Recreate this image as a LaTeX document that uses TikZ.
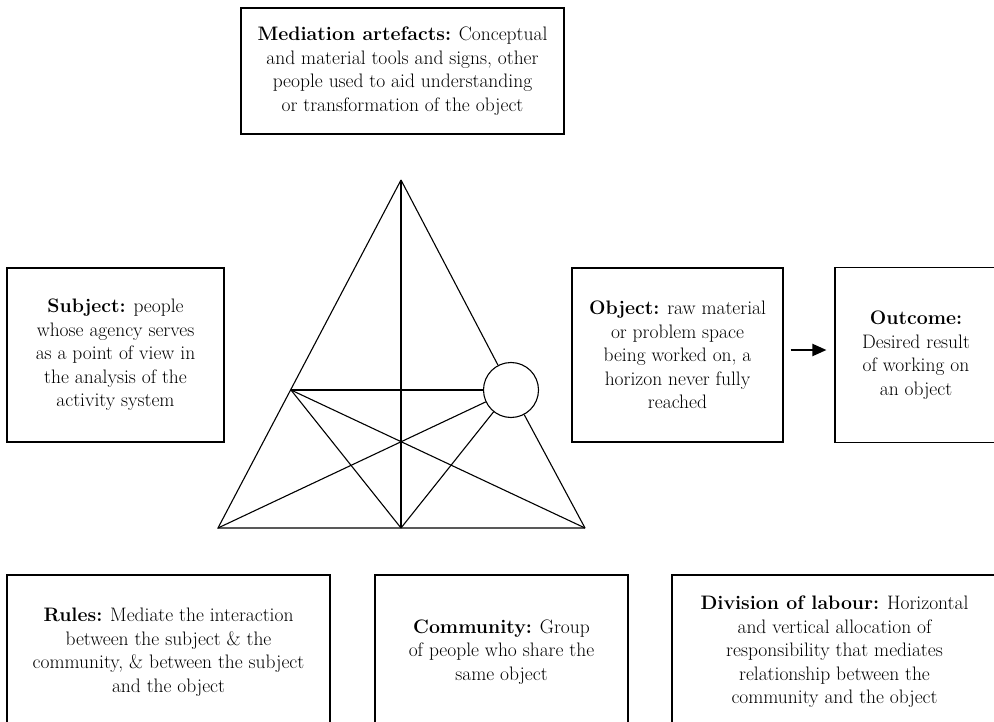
\documentclass[tikz,border=0pt]{standalone}
\usetikzlibrary{arrows.meta}
\def\boxfont{\fontsize{19.5}{23.5}\selectfont}

\begin{document}
\begin{tikzpicture}[x=1pt,y=-1pt,
    box/.style={draw,line width=1.1pt,align=center,inner sep=0pt,font=\boxfont},
    edge/.style={line width=1.1pt}]
    \clip (0,0) rectangle (994,722);
    \fill[white] (0,0) rectangle (994,722);
    % top and middle row
    \node[box,minimum width=323pt,minimum height=126pt] (media) at (402.5,71)
        {\textbf{Mediation artefacts:} Conceptual\\ and material tools and signs, other\\ people used to aid understanding\\ or transformation of the object};
    \node[box,minimum width=217pt,minimum height=174pt] (subject) at (115.5,355)
        {\textbf{Subject:} people\\ whose agency serves\\ as a point of view in\\ the analysis of the\\ activity system};
    \node[box,minimum width=211pt,minimum height=174pt] (object) at (677.5,355)
        {\textbf{Object:} raw material\\ or problem space\\ being worked on, a\\ horizon never fully\\ reached};
    \node[box,minimum width=162pt,minimum height=175pt] (outcome) at (916,355)
        {\textbf{Outcome:}\\ Desired result\\ of working on\\ an object};
    \draw[line width=2pt,-{Triangle[length=14pt,width=12pt]},shorten <=7pt,shorten >=8pt]
        ([yshift=5pt]object.east) -- ([yshift=5pt]outcome.west);
    % bottom row
    \node[box,minimum width=323pt,minimum height=154pt] (rules) at (168.5,652)
        {\textbf{Rules:} Mediate the interaction\\ between the subject \& the\\ community, \& between the subject\\ and the object};
    \node[box,minimum width=253pt,minimum height=154pt] (community) at (501.5,652)
        {\textbf{Community:} Group\\ of people who share the\\ same object};
    \node[box,minimum width=325pt,minimum height=154pt] (division) at (834.5,652)
        {\textbf{Division of labour:} Horizontal\\ and vertical allocation of\\ responsibility that mediates\\ relationship between the\\ community and the object};
    % triangle
    \coordinate (top) at (401,180);
    \coordinate (bl) at (218,528);
    \coordinate (bm) at (401,528);
    \coordinate (br) at (585,528);
    \coordinate (lm) at (291,390);
    \node[draw,edge,circle,minimum size=55pt,inner sep=0pt] (circ) at (511,390) {};
    \draw[edge] (top) -- (bl) -- (br);
    \draw[edge] (br) -- (circ);
    \draw[edge] (circ) -- (top);
    \draw[edge] (top) -- (bm);
    \draw[edge] (lm) -- (circ);
    \draw[edge] (lm) -- (bm);
    \draw[edge] (lm) -- (br);
    \draw[edge] (circ) -- (bl);
    \draw[edge] (circ) -- (bm);
\end{tikzpicture}
\end{document}
